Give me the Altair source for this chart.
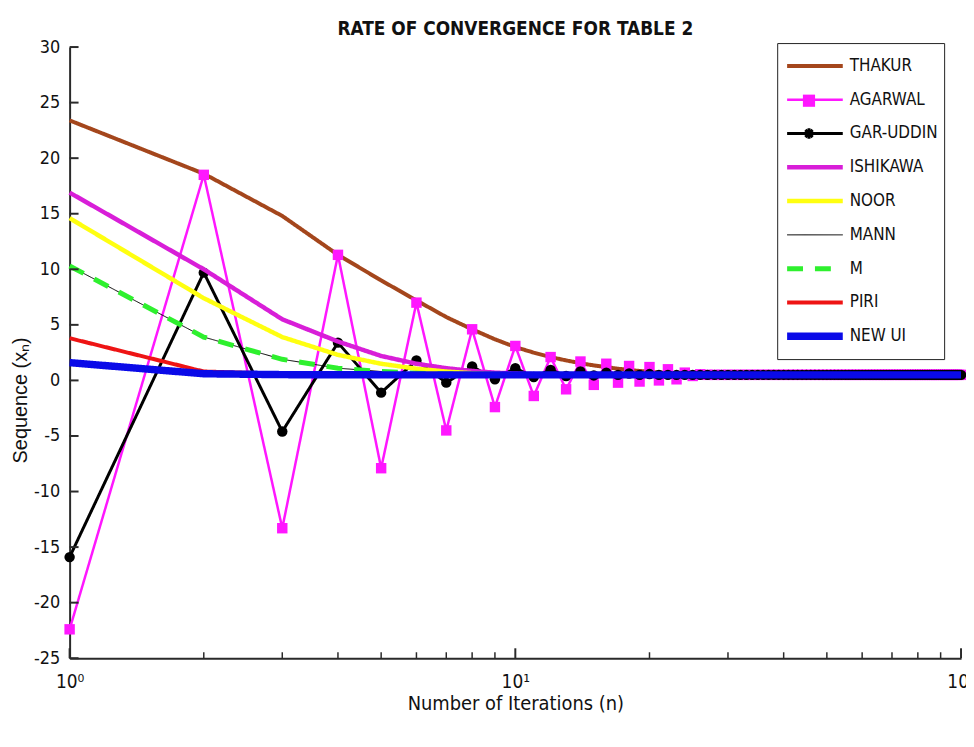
import altair as alt
import pandas as pd

# ---------------- data ----------------
series_names = ["THAKUR", "AGARWAL", "GAR-UDDIN", "ISHIKAWA", "NOOR", "MANN", "M", "PIRI", "NEW UI"]
series_colors = ["#a4461c", "#ff17ff", "#000000", "#d81ed8", "#ffff10", "#000000", "#2ef02e", "#ee1414", "#0a0ae8"]
line_widths = [4, 2.5, 3, 4.5, 4.5, 1, 5, 4, 7.5]
dash_patterns = [[1, 0], [1, 0], [1, 0], [1, 0], [1, 0], [1, 0], [16, 12], [1, 0], [1, 0]]

thakur = [23.4, 18.6, 14.8, 11.3, 9.0, 7.2, 5.7, 4.6, 3.7, 3.0, 2.5, 2.1, 1.8, 1.55, 1.35,
          1.2, 1.05, 0.95, 0.85, 0.78, 0.72, 0.67, 0.63, 0.6, 0.57, 0.55, 0.53, 0.52, 0.51]
agarwal = [-22.4, 18.5, -13.3, 11.3, -7.9, 7.0, -4.5, 4.6, -2.4, 3.1, -1.4, 2.1, -0.8, 1.7,
           -0.4, 1.5, -0.2, 1.3, -0.1, 1.2, 0.0, 1.0, 0.1, 0.7, 0.4, 0.55]
gar_uddin = [-15.9, 9.7, -4.6, 3.4, -1.1, 1.8, -0.2, 1.25, 0.1, 1.1, 0.3, 0.95, 0.4, 0.8,
             0.45, 0.7, 0.5, 0.62, 0.5, 0.57]
ishikawa = [16.9, 10.0, 5.5, 3.5, 2.2, 1.5, 1.1, 0.85, 0.7, 0.62, 0.56, 0.53, 0.51]
noor = [14.6, 7.4, 3.9, 2.3, 1.5, 1.05, 0.8, 0.65, 0.58, 0.54, 0.52, 0.51]
mann = [10.3, 3.9, 1.9, 1.1, 0.8, 0.65, 0.58, 0.54, 0.52, 0.51]
m_seq = [10.3, 3.9, 1.9, 1.1, 0.8, 0.65, 0.58, 0.54, 0.52, 0.51]
piri = [3.8, 0.8, 0.6, 0.55, 0.52, 0.51]
new_ui = [1.6, 0.6, 0.52, 0.51]
converged_value = 0.5      # flat tail level seen up to n = 100
last_iteration = 100

y_tick_values = [-25, -20, -15, -10, -5, 0, 5, 10, 15, 20, 25, 30]
x_major_ticks = [1, 10, 100]
x_minor_ticks = [2, 3, 4, 5, 6, 7, 8, 9, 20, 30, 40, 50, 60, 70, 80, 90]

series_values = [thakur, agarwal, gar_uddin, ishikawa, noor, mann, m_seq, piri, new_ui]

rows = []
for name, vals in zip(series_names, series_values):
    for i, v in enumerate(vals):
        rows.append({"series": name, "n": i + 1, "value": v})
    for n in range(len(vals) + 1, last_iteration + 1):
        rows.append({"series": name, "n": n, "value": converged_value})
df = pd.DataFrame(rows)

NARROW = "Liberation Sans Narrow, Arial Narrow, DejaVu Sans Condensed, sans-serif"
AXIS_COLOR = "#2a2a2a"
ASTERISK = "M-1,0L1,0M0,-1L0,1M-0.7,-0.7L0.7,0.7M-0.7,0.7L0.7,-0.7"

W, H = 897, 615

xscale = alt.Scale(type="log", domain=[1, 100], nice=False)
yscale = alt.Scale(domain=[-25, 30], nice=False, zero=False)

x_axis = alt.Axis(values=x_major_ticks, ticks=False, grid=False,
                  labelExpr="datum.value == 1 ? '10⁰' : (datum.value == 10 ? '10¹' : '10²')",
                  labelFont=NARROW, labelFontSize=19, labelColor="#111", labelPadding=14,
                  labelFlush=False, labelOverlap=False,
                  domainColor=AXIS_COLOR, domainWidth=2,
                  title="Number of Iterations (n)", titleFont=NARROW, titleFontSize=20,
                  titleFontWeight="normal", titleColor="#111", titleY=46, titleBaseline="middle")
y_axis = alt.Axis(values=y_tick_values, ticks=False, grid=False,
                  labelExpr="'' + datum.value",
                  labelFont=NARROW, labelFontSize=18, labelColor="#111", labelPadding=10,
                  domainColor=AXIS_COLOR, domainWidth=2,
                  title="Sequence (xₙ)", titleFont="Liberation Sans, Arial, sans-serif",
                  titleFontSize=20, titleFontWeight="normal", titleColor="#111",
                  titleAngle=270, titleX=-49, titleY=355, titleBaseline="middle")

legend = alt.Legend(title=None, orient="none", legendX=712, legendY=-4,
                    symbolType="stroke", symbolSize=3136, clipHeight=34, rowPadding=0,
                    labelFont=NARROW, labelFontSize=17, labelColor="#111", labelOffset=3,
                    padding=6, strokeColor="#222", symbolOffset=0)

color_enc = alt.Color("series:N", scale=alt.Scale(domain=series_names, range=series_colors),
                      legend=legend, sort=series_names)
dash_enc = alt.StrokeDash("series:N", scale=alt.Scale(domain=series_names, range=dash_patterns),
                          legend=legend, sort=series_names)
width_enc = alt.StrokeWidth("series:N", scale=alt.Scale(type="ordinal", domain=series_names,
                                                        range=line_widths),
                            legend=legend, sort=series_names)

base = alt.Chart(df)
layers = []
for name in series_names:
    line = base.transform_filter(alt.datum.series == name).mark_line(interpolate="linear").encode(
        x=alt.X("n:Q", scale=xscale, axis=x_axis),
        y=alt.Y("value:Q", scale=yscale, axis=y_axis),
        color=color_enc, strokeDash=dash_enc, strokeWidth=width_enc,
        order="n:Q",
    )
    layers.append(line)
    if name == "AGARWAL":
        layers.append(base.transform_filter(alt.datum.series == name).mark_point(
            shape="square", filled=True, size=110, color="#ff17ff", opacity=1).encode(
            x=alt.X("n:Q", scale=xscale, axis=x_axis),
            y=alt.Y("value:Q", scale=yscale, axis=y_axis)))
    if name == "GAR-UDDIN":
        layers.append(base.transform_filter(alt.datum.series == name).mark_point(
            shape="circle", filled=True, size=110, color="#000000", opacity=1).encode(
            x=alt.X("n:Q", scale=xscale, axis=x_axis),
            y=alt.Y("value:Q", scale=yscale, axis=y_axis)))

# marker glyphs inside the legend box (AGARWAL square, GAR-UDDIN asterisk)
legend_sq = alt.Chart(pd.DataFrame({"k": [0]})).mark_point(
    shape="square", filled=True, size=150, color="#ff17ff", opacity=1).encode(
    x=alt.value(744), y=alt.value(54))
legend_ast = alt.Chart(pd.DataFrame({"k": [0]})).mark_point(
    shape=ASTERISK, filled=False, size=110, color="#000000", strokeWidth=3, opacity=1).encode(
    x=alt.value(744), y=alt.value(87))

# inward axis ticks
ytick_df = pd.DataFrame({"value": y_tick_values})
ytick_layer = alt.Chart(ytick_df).mark_rule(color=AXIS_COLOR, strokeWidth=2).encode(
    y=alt.Y("value:Q", scale=yscale, axis=y_axis), x=alt.value(0), x2=alt.value(9))
xmaj_df = pd.DataFrame({"n": x_major_ticks})
xmaj_layer = alt.Chart(xmaj_df).mark_rule(color=AXIS_COLOR, strokeWidth=2).encode(
    x=alt.X("n:Q", scale=xscale, axis=x_axis), y=alt.value(H), y2=alt.value(H - 10))
xmin_df = pd.DataFrame({"n": x_minor_ticks})
xmin_layer = alt.Chart(xmin_df).mark_rule(color=AXIS_COLOR, strokeWidth=1.5).encode(
    x=alt.X("n:Q", scale=xscale, axis=x_axis), y=alt.value(H), y2=alt.value(H - 6))

chart = alt.layer(*layers, legend_sq, legend_ast, ytick_layer, xmaj_layer, xmin_layer).properties(
    width=W, height=H,
    title=alt.Title("RATE OF CONVERGENCE FOR TABLE 2", font=NARROW, fontSize=19,
                    fontWeight="bold", color="#111", anchor="middle", offset=-1),
    autosize=alt.AutoSizeParams(type="none"),
    padding={"left": 62, "top": 37, "right": 5, "bottom": 80},
    background="white",
).configure_view(stroke=None)

chart.save("out.html", embed_options={"renderer": "svg", "actions": False})
